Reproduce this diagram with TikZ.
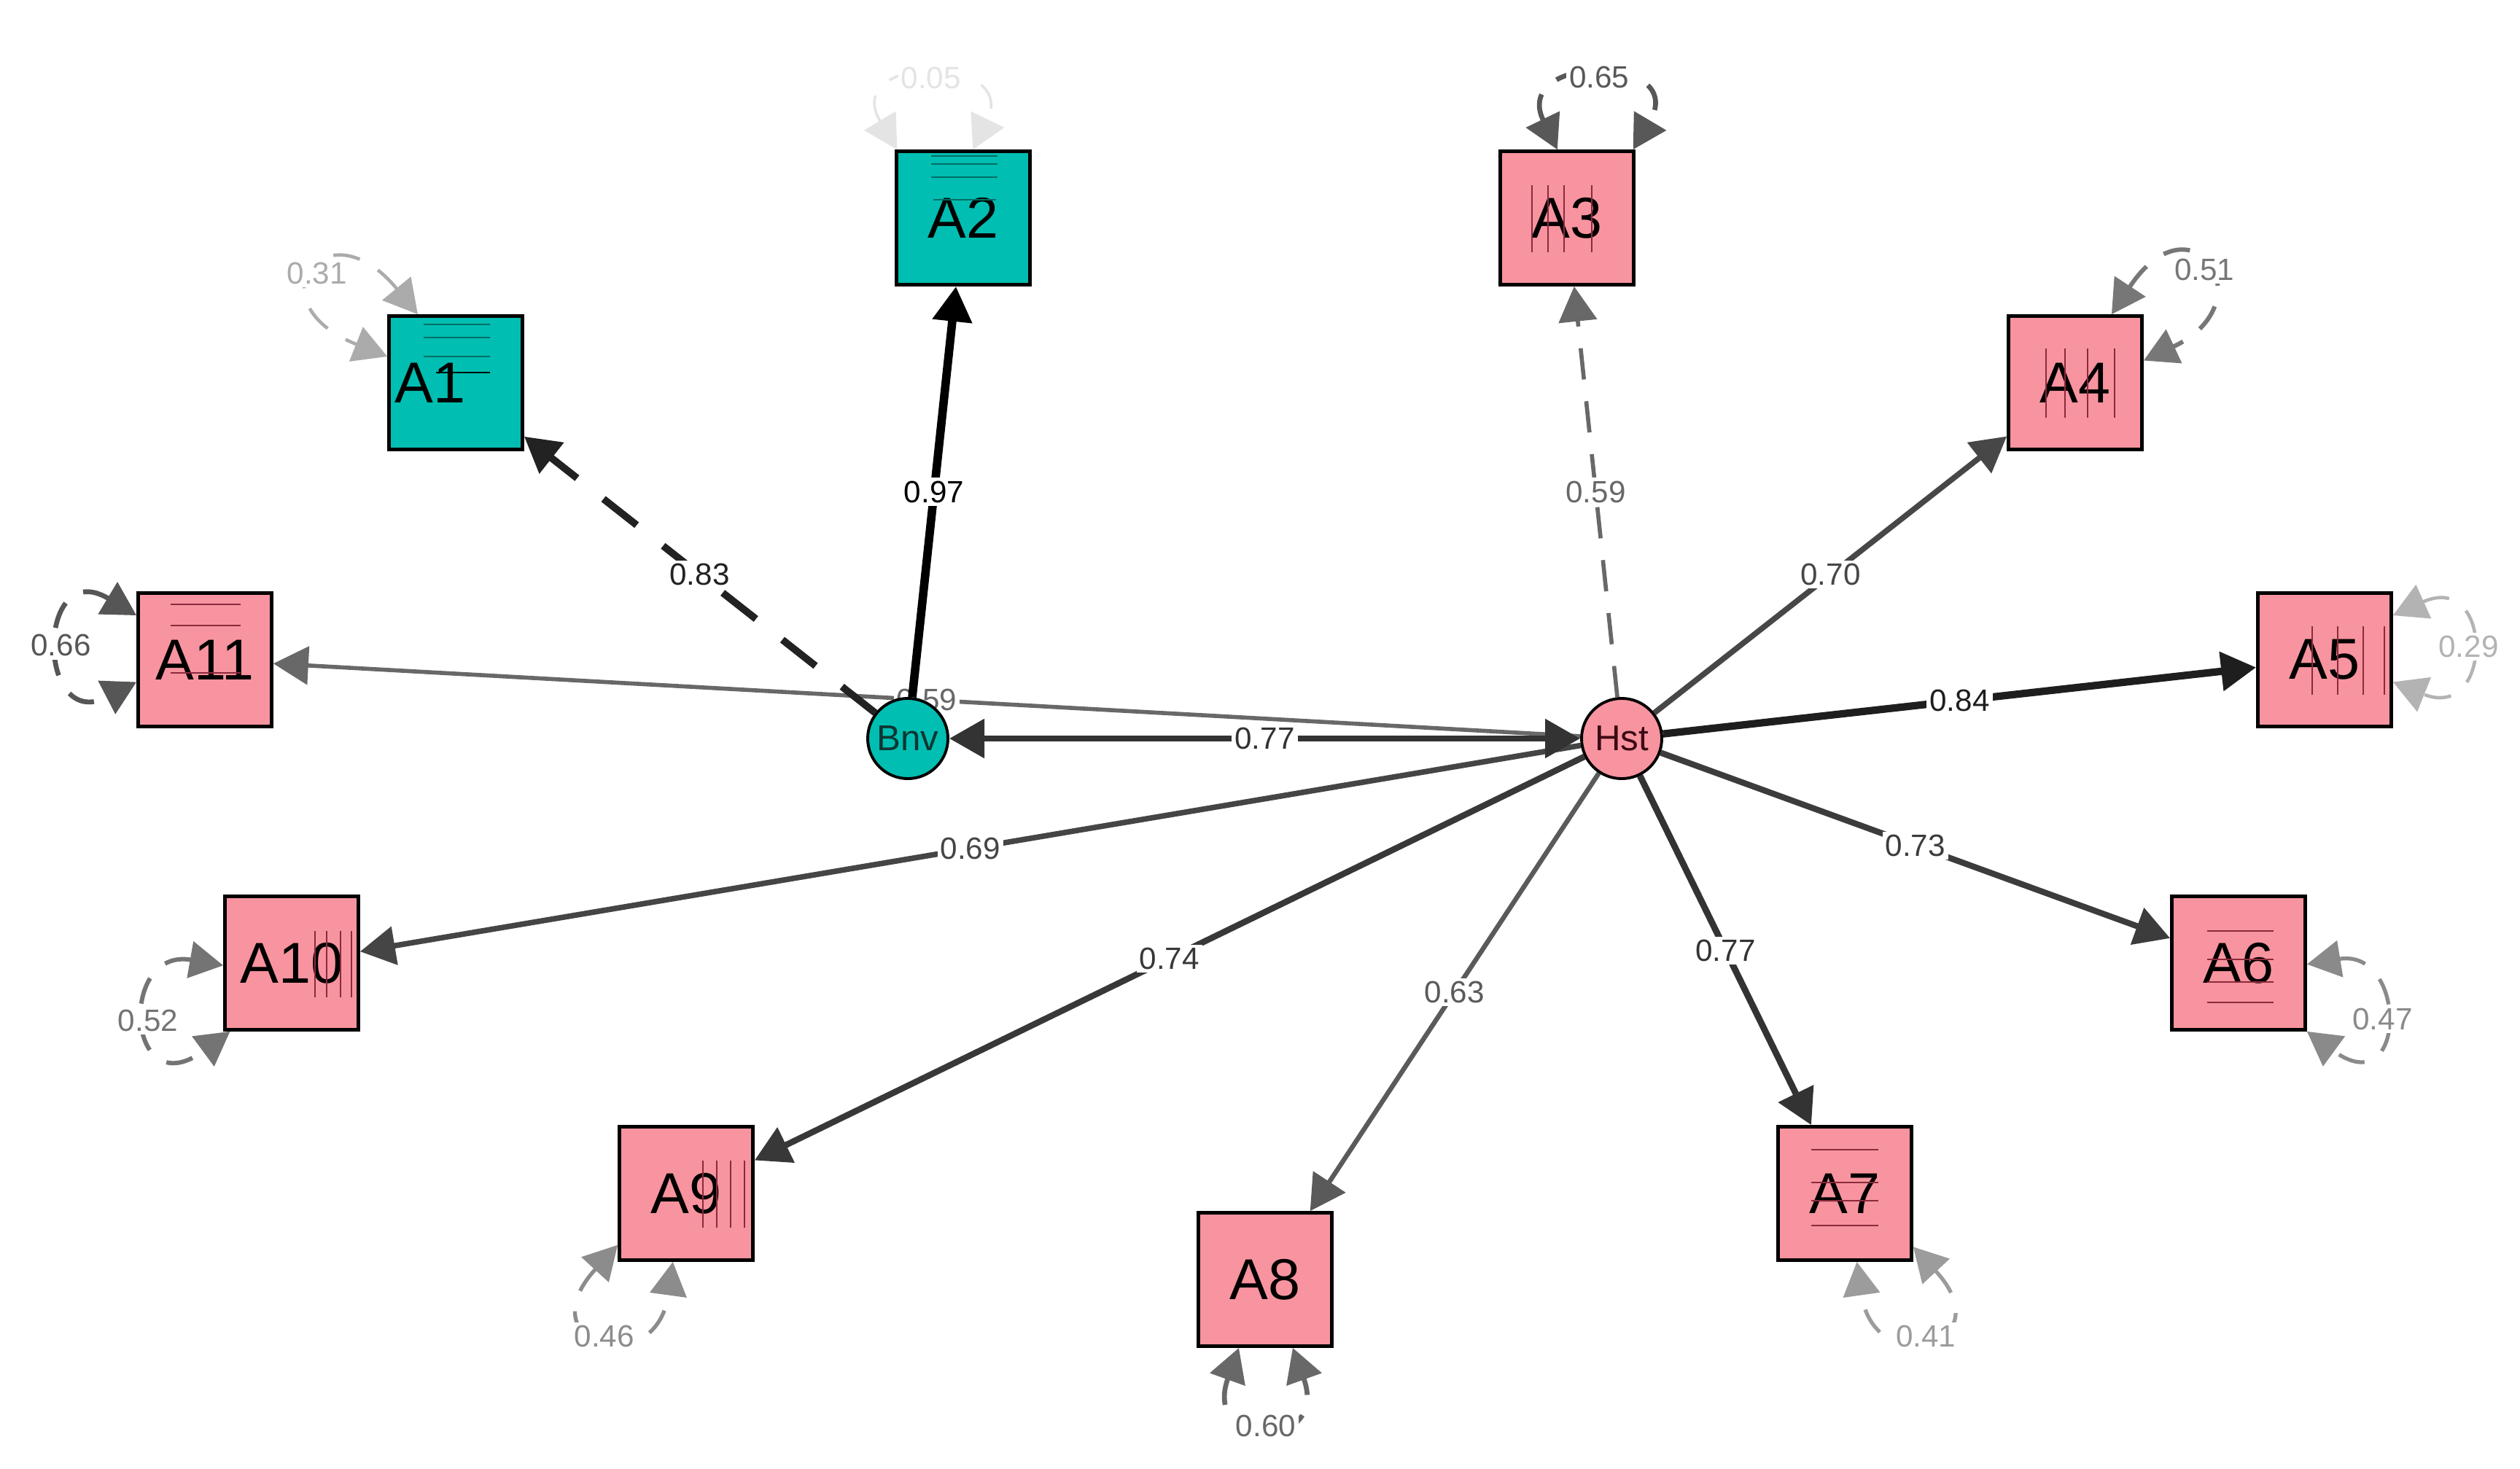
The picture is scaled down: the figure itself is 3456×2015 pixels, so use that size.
\documentclass[tikz,border=0pt]{standalone}
\usepackage{fontspec}
\setmainfont{Liberation Sans}
\usetikzlibrary{arrows.meta,backgrounds}
\definecolor{tealfill}{HTML}{00BEB1}
\definecolor{pinkfill}{HTML}{F8949F}
\definecolor{tealline}{HTML}{006E66}
\definecolor{pinkline}{HTML}{8A2A3C}
\definecolor{bnvtext}{HTML}{0E3532}
\definecolor{hsttext}{HTML}{3A0A14}
\definecolor{e97}{HTML}{000000}
\definecolor{e84}{HTML}{1E1E1E}
\definecolor{e83}{HTML}{222222}
\definecolor{e77}{HTML}{333333}
\definecolor{e74}{HTML}{383838}
\definecolor{e73}{HTML}{3C3C3C}
\definecolor{e70}{HTML}{474747}
\definecolor{e69}{HTML}{454545}
\definecolor{e63}{HTML}{5A5A5A}
\definecolor{e59}{HTML}{686868}
\definecolor{r66}{HTML}{565656}
\definecolor{r65}{HTML}{585858}
\definecolor{r60}{HTML}{686868}
\definecolor{r52}{HTML}{747474}
\definecolor{r51}{HTML}{777777}
\definecolor{r47}{HTML}{8A8A8A}
\definecolor{r46}{HTML}{8C8C8C}
\definecolor{r41}{HTML}{9C9C9C}
\definecolor{r31}{HTML}{ABABAB}
\definecolor{r29}{HTML}{B3B3B3}
\definecolor{r05}{HTML}{E4E4E4}
\begin{document}
\begin{tikzpicture}[x=0.01cm,y=-0.01cm,
  obs/.style={rectangle,draw=black,line width=1.3pt,minimum size=1.83cm,inner sep=0pt,
    font=\fontsize{22.5}{26}\selectfont},
  obsB/.style={obs,fill=tealfill},
  obsH/.style={obs,fill=pinkfill},
  lat/.style={circle,draw=black,line width=1.1pt,minimum size=1.1cm,inner sep=0pt,
    font=\fontsize{14}{16}\selectfont},
  lab/.style={fill=white,inner sep=1.2pt,text=#1,font=\fontsize{12}{14}\selectfont},
  ed/.style 2 args={draw=#1,line width=#2,-{Triangle[length=4.8mm,width=5.2mm]}},
  bied/.style 2 args={draw=#1,line width=#2,{Triangle[length=4.8mm,width=5.2mm]}-{Triangle[length=4.8mm,width=5.2mm]}},
  res/.style 2 args={draw=#1,line width=#2,dash pattern=on 3.7mm off 2.9mm,
    {Triangle[length=4.6mm,width=5mm]}-{Triangle[length=4.6mm,width=5mm]}},
  pinkmark/.style={draw=pinkline,line width=0.7pt},
  tealmark/.style={draw=tealline,line width=0.7pt}
]
\useasboundingbox (0,0) rectangle (3456,2015);

% ---------- nodes ----------
\node[obsB] (A1) at (625,525) {\makebox[0pt][c]{\hspace{-0.7cm}A1}};
\node[obsB] (A2) at (1321,299) {A2};
\node[obsH] (A3) at (2149,299) {A3};
\node[obsH] (A4) at (2846,525) {A4};
\node[obsH] (A5) at (3188,905) {A5};
\node[obsH] (A6) at (3070,1321) {A6};
\node[obsH] (A7) at (2530,1637) {A7};
\node[obsH] (A8) at (1735,1755) {A8};
\node[obsH] (A9) at (941,1637) {A9};
\node[obsH] (A10) at (400,1321) {A10};
\node[obsH] (A11) at (281,905) {A11};
\node[lat,fill=tealfill,text=bnvtext] (Bnv) at (1245,1013) {Bnv};
\node[lat,fill=pinkfill,text=hsttext] (Hst) at (2224,1013) {Hst};

% ---------- marks inside the boxes ----------
\foreach \yy in {445,463,489} {\draw[tealmark] (581,\yy) -- (672,\yy);}
\draw[black,line width=0.7pt] (598,511) -- (672,511);
\foreach \yy in {214,225,243} {\draw[tealmark] (1277,\yy) -- (1368,\yy);}
\draw[tealmark] (1280,274) -- (1366,274);
\foreach \xx in {2101,2123,2145,2183} {\draw[pinkmark] (\xx,254) -- (\xx,346);}
\foreach \xx in {2806,2832,2863,2900} {\draw[pinkmark] (\xx,478) -- (\xx,573);}
\foreach \xx in {3171,3206,3241,3270} {\draw[pinkmark] (\xx,859) -- (\xx,953);}
\foreach \yy in {1277,1316,1347,1375} {\draw[pinkmark] (3027,\yy) -- (3118,\yy);}
\foreach \yy in {1577,1622,1647,1681} {\draw[pinkmark] (2484,\yy) -- (2576,\yy);}
\foreach \xx in {964,983,1002,1021} {\draw[pinkmark] (\xx,1592) -- (\xx,1684);}
\foreach \xx in {432,448,467,482} {\draw[pinkmark] (\xx,1277) -- (\xx,1368);}
\foreach \yy in {829,858,923} {\draw[pinkmark] (234,\yy) -- (330,\yy);}

% ---------- connectors (behind the nodes) ----------
\begin{pgfonlayer}{background}
\fill[white] (0,0) rectangle (3456,2015);
\draw[ed={e59}{1.6pt}] (Hst) -- node[lab=e59]{0.59} (A11);
\draw[ed={e83}{2.8pt},dash pattern=on 5.8mm off 4.6mm] (Bnv) -- node[lab=e83]{0.83} (A1);
\draw[ed={e97}{3.3pt}] (Bnv) -- node[lab=e97]{0.97} (A2);
\draw[ed={e59}{1.6pt},dash pattern=on 4.3mm off 3mm] (Hst) -- node[lab=e59]{0.59} (A3);
\draw[ed={e70}{2.2pt}] (Hst) -- node[lab=e70]{0.70} (A4);
\draw[ed={e84}{2.9pt}] (Hst) -- node[lab=e84]{0.84} (A5);
\draw[ed={e73}{2.35pt}] (Hst) -- node[lab=e73]{0.73} (A6);
\draw[ed={e77}{2.5pt}] (Hst) -- node[lab=e77]{0.77} (A7);
\draw[ed={e63}{1.85pt}] (Hst) -- node[lab=e63]{0.63} (A8);
\draw[ed={e74}{2.4pt}] (Hst) -- node[lab=e74]{0.74} (A9);
\draw[ed={e69}{2.15pt}] (Hst) -- node[lab=e69]{0.69} (A10);
\draw[bied={e77}{2.5pt}] (Bnv) -- node[lab=e77]{0.77} (Hst);

% residual variances
\draw[res={r31}{1.3pt}] (A1.119) .. controls (447,278) and (344,415) .. node[lab=r31]{0.31} (A1.159);
\draw[res={r05}{1.0pt}] (A2.134) .. controls (1152,74) and (1398,74) .. node[lab=r05]{0.05} (A2.82);
\draw[res={r65}{1.9pt}] (A3.98) .. controls (2072,73) and (2318,73) .. node[lab=r65]{0.65} (A3.46);
\draw[res={r51}{1.7pt}] (A4.62) .. controls (3007,263) and (3110,415) .. node[lab=r51]{0.51} (A4.18);
\draw[res={r29}{1.3pt}] (A5.33) .. controls (3420,782) and (3420,991) .. node[lab=r29]{0.29} (A5.342);
\draw[res={r47}{1.5pt}] (A6.359) .. controls (3302,1300) and (3302,1516) .. node[lab=r47]{0.47} (A6.315);
\draw[res={r41}{1.5pt}] (A7.322) .. controls (2750,1846) and (2570,1896) .. node[lab=r41]{0.41} (A7.280);
\draw[res={r60}{1.9pt}] (A8.249) .. controls (1648,1991) and (1824,1991) .. node[lab=r60]{0.60} (A8.292);
\draw[res={r46}{1.5pt}] (A9.217) .. controls (720,1846) and (900,1896) .. node[lab=r46]{0.46} (A9.259);
\draw[res={r52}{1.7pt}] (A10.182) .. controls (161,1299) and (173,1520) .. node[lab=r52]{0.52} (A10.228);
\draw[res={r66}{1.9pt}] (A11.147) .. controls (49,761) and (49,1007) .. node[lab=r66]{0.66} (A11.198);
\end{pgfonlayer}
\end{tikzpicture}
\end{document}
